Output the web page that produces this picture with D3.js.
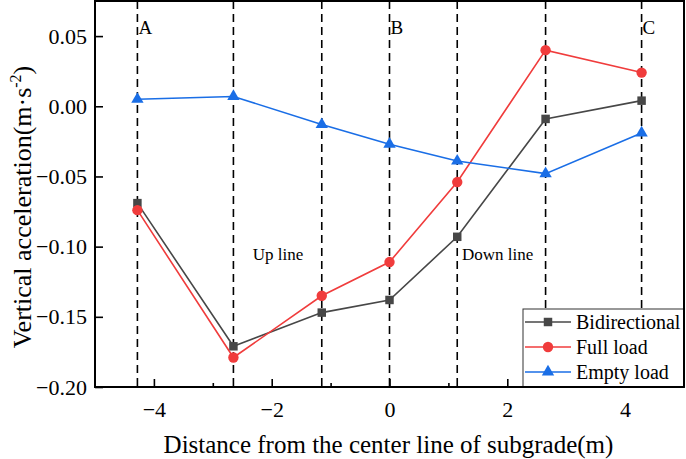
<!DOCTYPE html>
<html>
<head>
<meta charset="utf-8">
<script src="https://cdn.jsdelivr.net/npm/d3@7/dist/d3.min.js"></script>
<style>
  body { margin: 0; background: #fff; }
  svg { display: block; }
  svg text { font-family: "Liberation Serif", "Times New Roman", serif; fill: #000; }
</style>
</head>
<body>
<div id="chart"></div>
<script>
// measuring positions across the subgrade (m)
var positions     = [-4.28, -2.65, -1.15, 0, 1.15, 2.65, 4.28];
var bidirectional = [-0.069, -0.171, -0.147, -0.138, -0.093, -0.009, 0.004];
var fullLoad      = [-0.074, -0.179, -0.135, -0.111, -0.054, 0.040, 0.024];
var emptyLoad     = [0.005, 0.007, -0.013, -0.027, -0.039, -0.048, -0.019];

var seriesNames  = ["Bidirectional", "Full load", "Empty load"];
var xTicks       = [-4, -2, 0, 2, 4];
var xMinorTicks  = [-3, -1, 1, 3];
var yTicks       = [0.05, 0, -0.05, -0.10, -0.15, -0.20];
var pointLabels  = ["A", "", "", "B", "", "", "C"];
var regionLabels = ["Up line", "Down line"];

var serif  = "'Liberation Serif', 'Times New Roman', serif";
var width  = 686;
var height = 459;
var plotLeft = 95, plotRight = 684, plotTop = 1, plotBottom = 387;

var x = d3.scaleLinear().domain([-5, 5]).range([plotLeft, plotRight]);
var y = d3.scaleLinear().domain([-0.2, 0.075]).range([plotBottom, plotTop]);

var svg = d3.select("#chart").append("svg")
  .attr("width", width)
  .attr("height", height)
  .attr("font-family", serif);

// dashed section lines
svg.append("g").selectAll("line")
  .data(positions)
  .enter().append("line")
  .attr("x1", function (d) { return x(d); })
  .attr("x2", function (d) { return x(d); })
  .attr("y1", plotTop)
  .attr("y2", plotBottom)
  .attr("stroke", "#000")
  .attr("stroke-width", 1.6)
  .attr("stroke-dasharray", "8,5");

// section letters
svg.append("g").selectAll("text")
  .data(positions.map(function (p, i) { return { p: p, t: pointLabels[i] }; }).filter(function (d) { return d.t; }))
  .enter().append("text")
  .attr("x", function (d) { return x(d.p) + 1; })
  .attr("y", 34)
  .attr("font-size", 19)
  .text(function (d) { return d.t; });

// up / down line labels
svg.append("text").attr("x", x(-2.32)).attr("y", y(-0.1095)).attr("font-size", 17).text(regionLabels[0]);
svg.append("text").attr("x", x(1.23)).attr("y", y(-0.1095)).attr("font-size", 17).text(regionLabels[1]);

var series = [
  { name: seriesNames[0], values: bidirectional, color: "#474747", marker: "square" },
  { name: seriesNames[1], values: fullLoad,      color: "#f03c3c", marker: "circle" },
  { name: seriesNames[2], values: emptyLoad,     color: "#1a6ee6", marker: "triangle" }
];

var symbolFor = {
  square:   d3.symbol().type(d3.symbolSquare).size(72),
  circle:   d3.symbol().type(d3.symbolCircle).size(85),
  triangle: d3.symbol().type(d3.symbolTriangle).size(66)
};

var line = d3.line()
  .x(function (d) { return x(d[0]); })
  .y(function (d) { return y(d[1]); });

series.forEach(function (s) {
  var pts = positions.map(function (p, i) { return [p, s.values[i]]; });
  svg.append("path")
    .attr("d", line(pts))
    .attr("fill", "none")
    .attr("stroke", s.color)
    .attr("stroke-width", 1.6);
  svg.append("g").selectAll("path")
    .data(pts)
    .enter().append("path")
    .attr("d", symbolFor[s.marker])
    .attr("transform", function (d) { return "translate(" + x(d[0]) + "," + y(d[1]) + ")"; })
    .attr("fill", s.color);
});

// axes
var xAxis = d3.axisBottom(x).tickValues(xTicks).tickSize(-8).tickPadding(14)
  .tickFormat(function (d) { return d3.format("d")(d).replace("-", "\u2212"); });
var xMinor = d3.axisBottom(x).tickValues(xMinorTicks).tickSize(-4).tickFormat("");
var yAxis = d3.axisLeft(y).tickValues(yTicks).tickSize(-8).tickPadding(8)
  .tickFormat(function (d) { return d3.format(".2f")(d).replace("-", "\u2212"); });

svg.append("g").attr("transform", "translate(0," + plotBottom + ")").call(xAxis);
svg.append("g").attr("transform", "translate(0," + plotBottom + ")").call(xMinor);
var gy = svg.append("g").attr("transform", "translate(" + plotLeft + ",0)").call(yAxis);

svg.selectAll(".domain").remove();
svg.selectAll(".tick line").attr("stroke", "#000").attr("stroke-width", 1.6);
svg.selectAll(".tick").attr("font-family", serif);
svg.selectAll(".tick text").attr("font-size", 22).attr("font-family", serif);
// y tick lines point into the plot, labels sit just outside
gy.selectAll(".tick line").attr("x2", 8);

// frame
svg.append("rect")
  .attr("x", plotLeft).attr("y", plotTop)
  .attr("width", plotRight - plotLeft).attr("height", plotBottom - plotTop)
  .attr("fill", "none")
  .attr("stroke", "#000")
  .attr("stroke-width", 2);

// legend
var legend = svg.append("g");
legend.append("rect")
  .attr("x", 523).attr("y", 309)
  .attr("width", plotRight - 523).attr("height", plotBottom - 309)
  .attr("fill", "#fff")
  .attr("stroke", "#333")
  .attr("stroke-width", 1);

series.forEach(function (s, i) {
  var ly = 322 + i * 25;
  legend.append("line")
    .attr("x1", 525).attr("x2", 571)
    .attr("y1", ly).attr("y2", ly)
    .attr("stroke", s.color).attr("stroke-width", 1.6);
  legend.append("path")
    .attr("d", symbolFor[s.marker])
    .attr("transform", "translate(548," + ly + ")")
    .attr("fill", s.color);
  legend.append("text")
    .attr("x", 576).attr("y", ly + 6.5)
    .attr("font-size", 20)
    .attr("font-family", serif)
    .text(s.name);
});

// redraw frame edges over the legend
svg.append("line").attr("x1", plotRight).attr("x2", plotRight).attr("y1", plotTop).attr("y2", plotBottom)
  .attr("stroke", "#000").attr("stroke-width", 2);
svg.append("line").attr("x1", plotLeft).attr("x2", plotRight).attr("y1", plotBottom).attr("y2", plotBottom)
  .attr("stroke", "#000").attr("stroke-width", 2);

// axis titles
svg.append("text")
  .attr("x", (plotLeft + plotRight) / 2 - 1)
  .attr("y", 453)
  .attr("text-anchor", "middle")
  .attr("font-size", 25)
  .text("Distance from the center line of subgrade(m)");

var yt = svg.append("text")
  .attr("transform", "translate(31,207) rotate(-90)")
  .attr("text-anchor", "middle")
  .attr("font-size", 26);
yt.append("tspan").text("Vertical acceleration(m\u00b7s");
yt.append("tspan").attr("font-size", 16).attr("dy", -10).text("-2");
yt.append("tspan").attr("dy", 10).text(")");
</script>
</body>
</html>
